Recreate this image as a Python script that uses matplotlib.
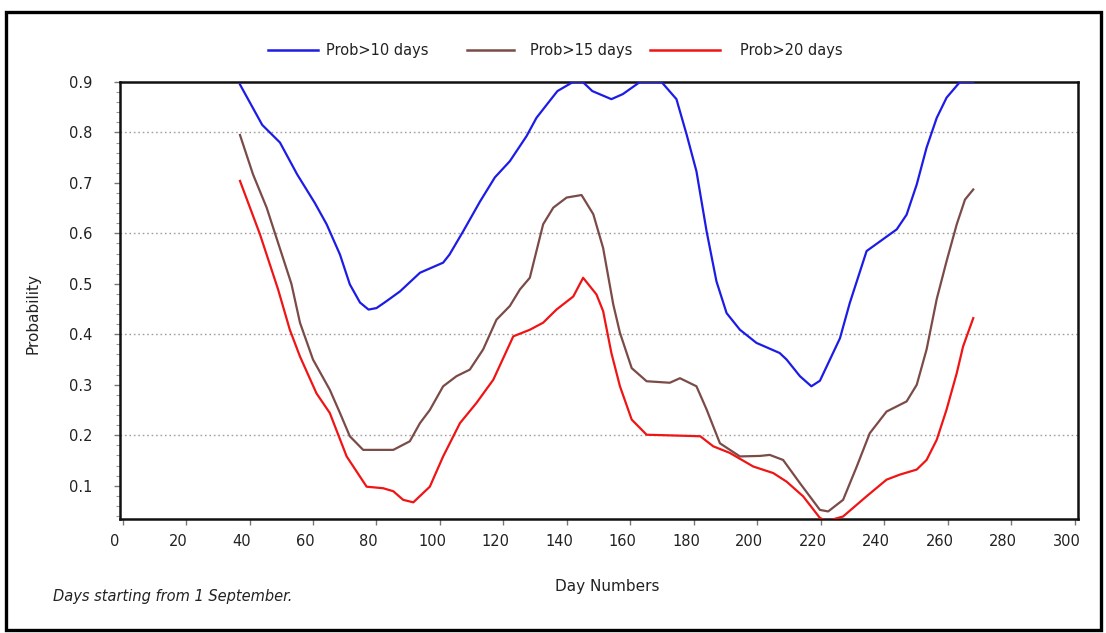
"""Probability of a dry spell longer than N days against day number."""

import numpy as np
import matplotlib

matplotlib.use("Agg")
import matplotlib.pyplot as plt
import matplotlib.transforms as mtransforms
from matplotlib.lines import Line2D
from matplotlib.patches import Rectangle
from matplotlib.ticker import MultipleLocator

# ── Data ──────────────────────────────────────────────────────────────────────

DAYS_10 = [37, 44, 49.6, 55, 60.6, 64.3, 68.5, 71.6, 74.8, 77.5, 80, 83, 87.4,
           93.7, 101, 103, 107.3, 112.6, 117.3, 122, 127.3, 130.4, 134, 137,
           141.9, 145, 148, 154, 157.6, 163, 169.8, 174.5, 177.7, 180.8, 184,
           187.1, 190.3, 194.5, 199.7, 207, 209.2, 213.4, 217, 219.7, 226,
           229.1, 234.4, 243.9, 247, 250.2, 253.3, 256.5, 259.6, 263.8, 268]
PROB_10 = [0.895, 0.815, 0.78, 0.717, 0.66, 0.618, 0.558, 0.499, 0.463, 0.449,
           0.452, 0.465, 0.485, 0.522, 0.542, 0.558, 0.604, 0.663, 0.711, 0.743,
           0.793, 0.829, 0.858, 0.882, 0.9, 0.9, 0.882, 0.866, 0.876, 0.9, 0.9,
           0.866, 0.796, 0.723, 0.604, 0.505, 0.442, 0.409, 0.383, 0.363, 0.35,
           0.317, 0.297, 0.308, 0.392, 0.462, 0.565, 0.608, 0.637, 0.697, 0.77,
           0.829, 0.869, 0.9, 0.9]

DAYS_15 = [37, 41.1, 45.4, 48.5, 53.2, 55.9, 60, 65.3, 68.5, 71.6, 75.8, 85.3,
           90.5, 93.7, 96.8, 101, 105.2, 109.4, 113.6, 117.8, 122, 125.2, 128.3,
           132.5, 135.7, 139.9, 144.6, 148.3, 151.4, 154.6, 156.7, 160.4, 165.1,
           172.4, 175.6, 180.8, 184, 188.2, 194.5, 200.8, 203.9, 208.1, 213.4,
           219.7, 222.3, 227, 231.3, 235.4, 240.7, 247, 250.2, 253.3, 256.5,
           259.6, 262.8, 265.4, 268]
PROB_15 = [0.795, 0.717, 0.651, 0.591, 0.5, 0.423, 0.35, 0.29, 0.244, 0.198,
           0.171, 0.171, 0.188, 0.224, 0.25, 0.297, 0.317, 0.33, 0.37, 0.429,
           0.456, 0.489, 0.512, 0.618, 0.651, 0.671, 0.676, 0.638, 0.571, 0.459,
           0.403, 0.333, 0.307, 0.304, 0.313, 0.297, 0.251, 0.184, 0.158, 0.159,
           0.161, 0.151, 0.105, 0.052, 0.049, 0.072, 0.138, 0.204, 0.247, 0.267,
           0.3, 0.37, 0.47, 0.545, 0.618, 0.667, 0.687]

DAYS_20 = [37, 43.3, 49, 52.7, 55.9, 61.1, 65.3, 70.6, 76.9, 82.1, 85.3, 88.4,
           91.6, 96.8, 101, 106.3, 111.5, 116.8, 123.1, 128.3, 132.5, 136.7,
           142, 145.1, 149.3, 151.4, 154, 156.7, 160.4, 165.1, 182, 186.1,
           191.3, 198.7, 205, 209.2, 214.4, 219.7, 222, 227, 234.4, 240.7,
           244.9, 250.2, 253.3, 256.5, 259.6, 262.8, 264.8, 268]
PROB_20 = [0.704, 0.598, 0.489, 0.409, 0.356, 0.283, 0.244, 0.158, 0.098,
           0.095, 0.089, 0.072, 0.067, 0.098, 0.158, 0.224, 0.264, 0.31, 0.396,
           0.409, 0.423, 0.449, 0.475, 0.512, 0.479, 0.446, 0.363, 0.297, 0.231,
           0.201, 0.198, 0.178, 0.165, 0.138, 0.125, 0.108, 0.079, 0.036, 0.03,
           0.039, 0.079, 0.112, 0.122, 0.132, 0.151, 0.191, 0.251, 0.323, 0.376,
           0.432]

LABELS = ["Prob>10 days", "Prob>15 days", "Prob>20 days"]
COLORS = ["#1c1ce6", "#7a4b47", "#f01414"]

GRID_LEVELS = [0.2, 0.4, 0.6, 0.8]
TEXT_COLOR = "#222222"

# legend key layout in figure pixels: (line start, line end, text start)
KEY_PIXELS = [(268, 318, 326), (467, 514, 530), (650, 720, 740)]

W, H = 1106, 633

# ── Plot ──────────────────────────────────────────────────────────────────────

fig = plt.figure(figsize=(W / 100, H / 100), dpi=100)
ax = fig.add_axes([120 / W, 1 - 519 / H, 958 / W, 437 / H])

for days, prob, color in zip([DAYS_10, DAYS_15, DAYS_20],
                             [PROB_10, PROB_15, PROB_20], COLORS):
    ax.plot(days, prob, color=color, lw=1.6, zorder=3)

for level in GRID_LEVELS:
    ax.axhline(level, color="#a0a0a0", lw=1.0, ls=(0, (1.2, 2.0)), zorder=1)

ax.set_xlim(-0.8, 301)
ax.set_ylim(0.034, 0.9)
ax.xaxis.set_major_locator(MultipleLocator(20))
ax.yaxis.set_minor_locator(MultipleLocator(0.02))
yt = np.arange(0.1, 0.91, 0.1)
ax.set_yticks(yt)
ax.set_yticklabels([f"{v:.1f}" for v in yt])

ax.tick_params(axis="both", which="major", length=4, width=1, color="#777777",
               labelsize=10.5, labelcolor=TEXT_COLOR)
ax.tick_params(axis="y", which="major", pad=16)
ax.tick_params(axis="y", which="minor", length=3, width=0.8, color="#999999")
ax.tick_params(axis="x", which="major", pad=7)

# x tick labels sit a little left of their tick marks
shift = mtransforms.ScaledTranslation(-8 / 100, 0, fig.dpi_scale_trans)
for lbl in ax.get_xticklabels():
    lbl.set_transform(lbl.get_transform() + shift)

for side in ["left", "bottom", "top", "right"]:
    ax.spines[side].set_linewidth(1.8)
    ax.spines[side].set_color("#111111")

ax.set_xlabel("Day Numbers", fontsize=11, color=TEXT_COLOR)
ax.xaxis.set_label_coords(0.509, -0.137)
ax.set_ylabel("Probability", fontsize=11, color=TEXT_COLOR)
ax.yaxis.set_label_coords(-0.0835, 0.47)

# legend keys across the top
key_y = 1 - 50 / H
for (x0, x1, xt), label, color in zip(KEY_PIXELS, LABELS, COLORS):
    fig.add_artist(Line2D([x0 / W, x1 / W], [key_y, key_y], color=color,
                          lw=1.8, transform=fig.transFigure))
    fig.text(xt / W, key_y, label, fontsize=10.5, color=TEXT_COLOR,
             va="center", ha="left")

fig.text(53 / W, 1 - 597 / H, "Days starting from 1 September.",
         fontsize=10.5, style="italic", color=TEXT_COLOR, va="center")

# outer frame round the whole chart
fig.patches.append(Rectangle((6 / W, 3 / H), 1095 / W, 618 / H,
                             transform=fig.transFigure, fill=False,
                             edgecolor="black", lw=2.4))

fig.savefig("out.png", dpi=100)
